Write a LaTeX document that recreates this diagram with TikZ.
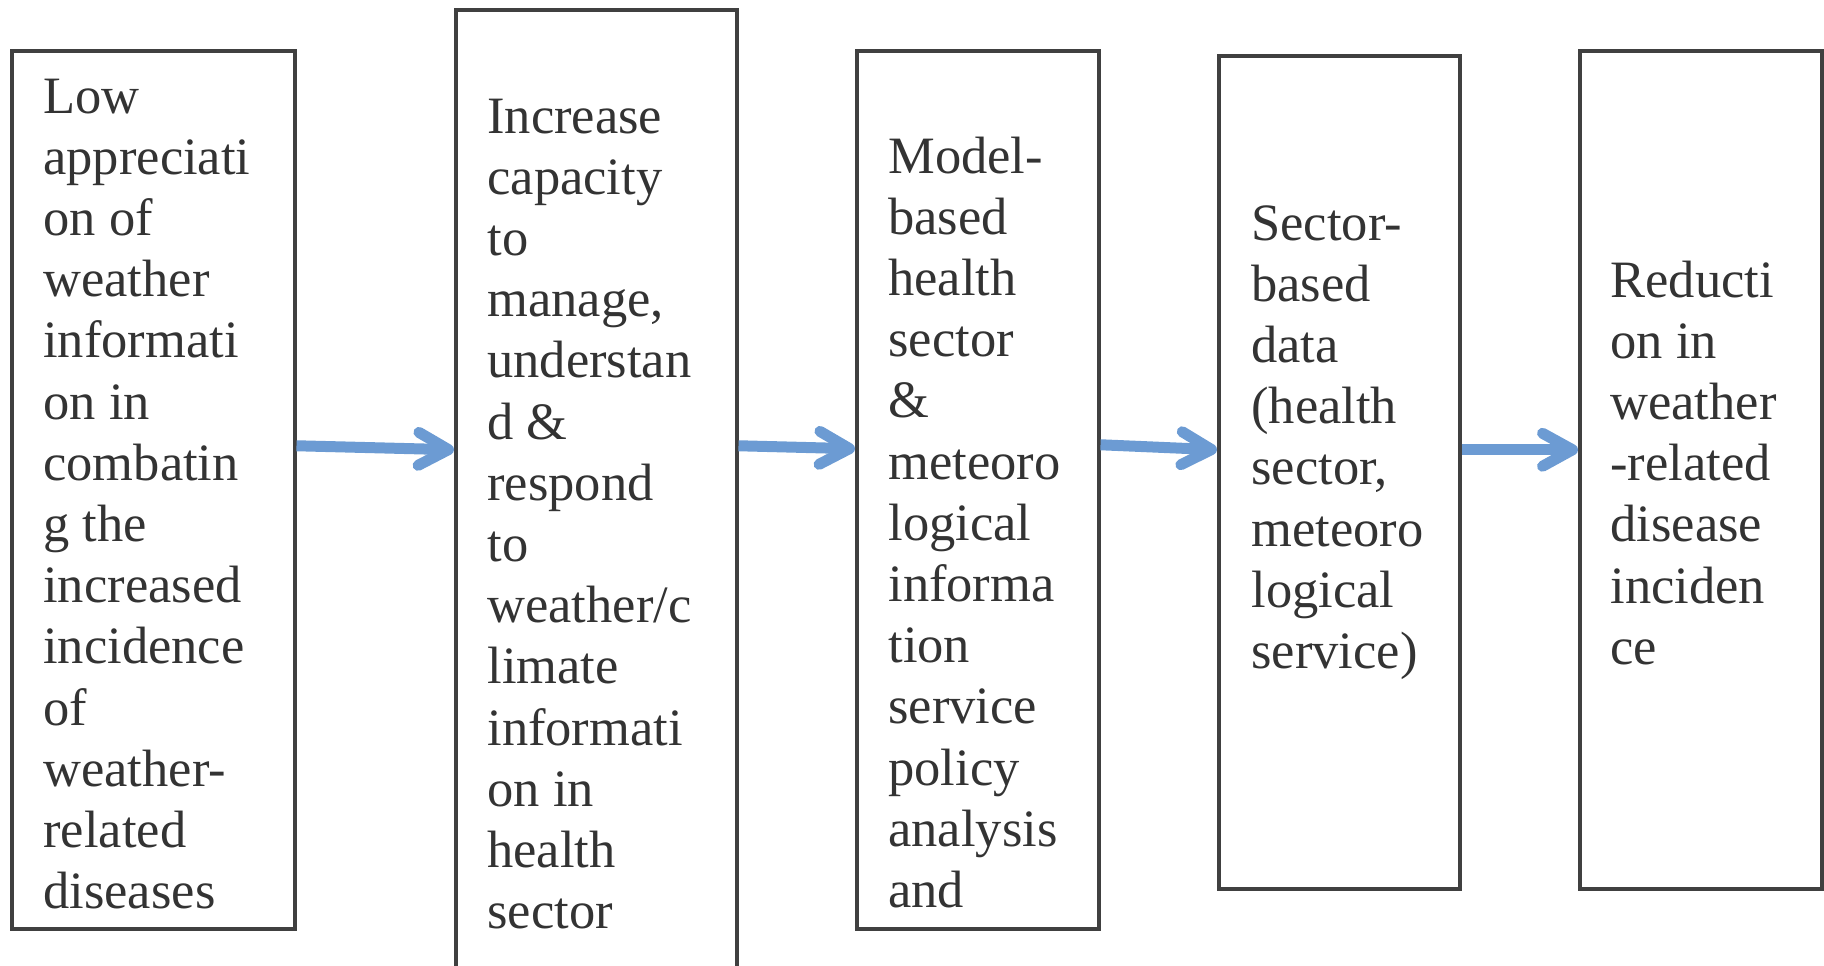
\documentclass[tikz,border=0pt]{standalone}
\usepackage{fontspec}
\setmainfont{Liberation Serif}
\usetikzlibrary{arrows.meta}
\definecolor{arrowblue}{RGB}{108,155,211}
\definecolor{boxgray}{RGB}{64,64,64}
\definecolor{textgray}{RGB}{51,51,51}

\begin{document}
\begin{tikzpicture}[x=0.5pt,y=-0.5pt]
\tikzstyle{box}=[draw=boxgray,line width=1.75pt,rectangle,inner sep=0pt,anchor=north west];
\tikzstyle{txt}=[text=textgray,font=\fontsize{26.25}{30.6}\selectfont,align=left,inner sep=0pt,anchor=base west];
\tikzstyle{arr}=[draw=arrowblue,line width=5.5pt,-{Straight Barb[length=15pt,width=16.5pt,round]}];
\path[use as bounding box,clip] (0,0) rectangle (1824,965);
% the five boxes
\node[box,minimum width=141.5pt,minimum height=439pt] (low) at (10,49) {};
\node[box,minimum width=140.5pt,minimum height=507.5pt] (incr) at (454,8) {};
\node[box,minimum width=121pt,minimum height=439pt] (model) at (855,49) {};
\node[box,minimum width=120.5pt,minimum height=416.5pt] (sect) at (1217,54) {};
\node[box,minimum width=121pt,minimum height=419pt] (redu) at (1578,49) {};
% texts (placed by the baseline of their last line)
\node[txt] (lowtxt) at (43,908.6) {Low\\appreciati\\on of\\weather\\informati\\on in\\combatin\\g the\\increased\\incidence\\of\\weather-\\related\\diseases};
\node[txt] (incrtxt) at (487,928.6) {Increase\\capacity\\to\\manage,\\understan\\d \&\\respond\\to\\weather/c\\limate\\informati\\on in\\health\\sector};
\node[txt] (modeltxt) at (888,907.4) {Model-\\based\\health\\sector\\\&\\meteoro\\logical\\informa\\tion\\service\\policy\\analysis\\and};
\node[txt] (secttxt) at (1251,668.4) {Sector-\\based\\data\\(health\\sector,\\meteoro\\logical\\service)};
\node[txt] (redutxt) at (1610,664.2) {Reducti\\on in\\weather\\-related\\disease\\inciden\\ce};
% arrows
\draw[arr] ([yshift=22pt]low.east) -- ([yshift=33.75pt]incr.west);
\draw[arr] ([yshift=35.75pt]incr.east) -- ([yshift=20.5pt]model.west);
\draw[arr] ([yshift=22.5pt]model.east) -- ([yshift=11.25pt]sect.west);
\draw[arr] ([yshift=11.25pt]sect.east) -- ([yshift=10pt]redu.west);
\end{tikzpicture}
\end{document}
